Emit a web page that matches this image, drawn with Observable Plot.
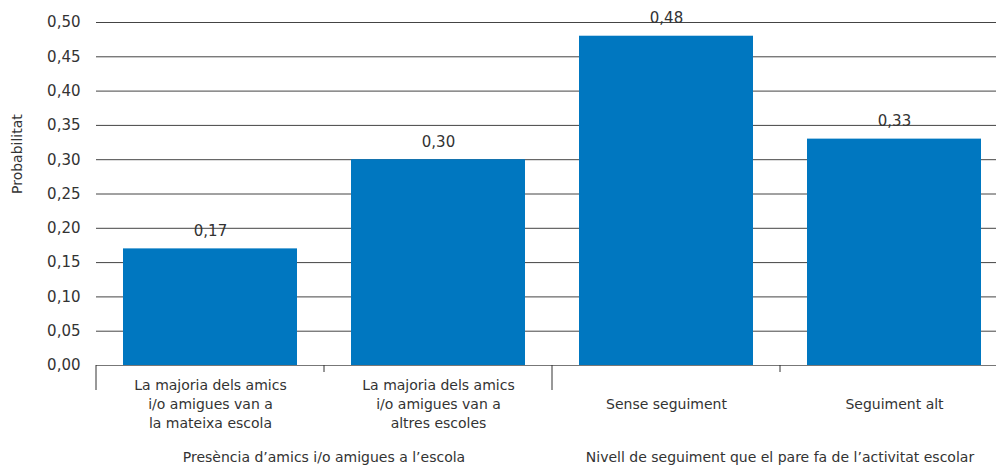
<!DOCTYPE html>
<html><head><meta charset="utf-8">
<script src="https://cdn.jsdelivr.net/npm/d3@7"></script>
<script src="https://cdn.jsdelivr.net/npm/@observablehq/plot@0.6"></script>
<style>body{margin:0;background:#fff}</style>
</head><body><div id="chart"></div>
<script>
const categories = [
  "La majoria dels amics\ni/o amigues van a\nla mateixa escola",
  "La majoria dels amics\ni/o amigues van a\naltres escoles",
  "Sense seguiment",
  "Seguiment alt"
];
const values = [0.17, 0.30, 0.48, 0.33];
const groupNames = ["Presència d’amics i/o amigues a l’escola", "Nivell de seguiment que el pare fa de l’activitat escolar"];
const groupStart = [0, 2]; // index of first category in each group
const groupSize = [2, 2];
const yTicks = [0, 0.05, 0.10, 0.15, 0.20, 0.25, 0.30, 0.35, 0.40, 0.45, 0.50];
const yLabel = "Probabilitat";

const fmt = v => d3.format(".2f")(v).replace(".", ",");
const data = categories.map((c, i) => ({cat: c, value: values[i]}));
const textColor = "#333";
const font = "DejaVu Sans, sans-serif";

// separators and group titles drawn through the x band scale
function groupMark(index, scales, vals, dims) {
  const g = d3.create("svg:g");
  const x = scales.x, bw = x.bandwidth();
  const y0 = dims.height - dims.marginBottom;
  categories.forEach((c, i) => {
    const isGroupStart = groupStart.includes(i);
    const left = x(c);
    g.append("line").attr("x1", left).attr("x2", left)
      .attr("y1", y0).attr("y2", y0 + (isGroupStart ? 25 : 7))
      .attr("stroke", "#333").attr("stroke-width", 1);
  });
  groupNames.forEach((name, k) => {
    const first = categories[groupStart[k]];
    const last = categories[groupStart[k] + groupSize[k] - 1];
    const cx = (x(first) + x(last) + bw) / 2;
    g.append("text").attr("x", cx).attr("y", y0 + 97)
      .attr("text-anchor", "middle").attr("fill", textColor)
      .attr("font-size", 14).attr("font-family", font)
      .text(name);
  });
  return g.node();
}

const chart = Plot.plot({
  width: 996,
  height: 466,
  marginLeft: 96,
  marginRight: -12,
  marginTop: 22,
  marginBottom: 101,
  style: {fontFamily: font, color: textColor, background: "#fff"},
  x: {domain: categories, padding: 0, axis: null},
  y: {domain: [0, 0.5], axis: null},
  marks: [
    Plot.gridY(yTicks, {stroke: "#444", strokeOpacity: 1, strokeWidth: 1}),
    Plot.axisY(yTicks, {tickSize: 0, tickPadding: 16, tickFormat: fmt, fontSize: 15, label: null, fill: textColor}),
    Plot.text([yLabel], {frameAnchor: "left", dx: -79, rotate: -90, fontSize: 14, fill: textColor}),
    Plot.barY(data, {x: "cat", y: "value", fill: "#0077c0", insetLeft: 27, insetRight: 27}),
    Plot.ruleY([0], {stroke: "#777", strokeWidth: 1}),
    Plot.text(data, {x: "cat", y: "value", text: d => fmt(d.value), dy: -18, fontSize: 15, fill: textColor}),
    Plot.text(data, {x: "cat", text: "cat", frameAnchor: "bottom", dy: 37, lineAnchor: "middle", lineHeight: 1.36, fontSize: 14, fill: textColor}),
    groupMark
  ]
});
document.getElementById("chart").append(chart);
</script>
</body></html>
